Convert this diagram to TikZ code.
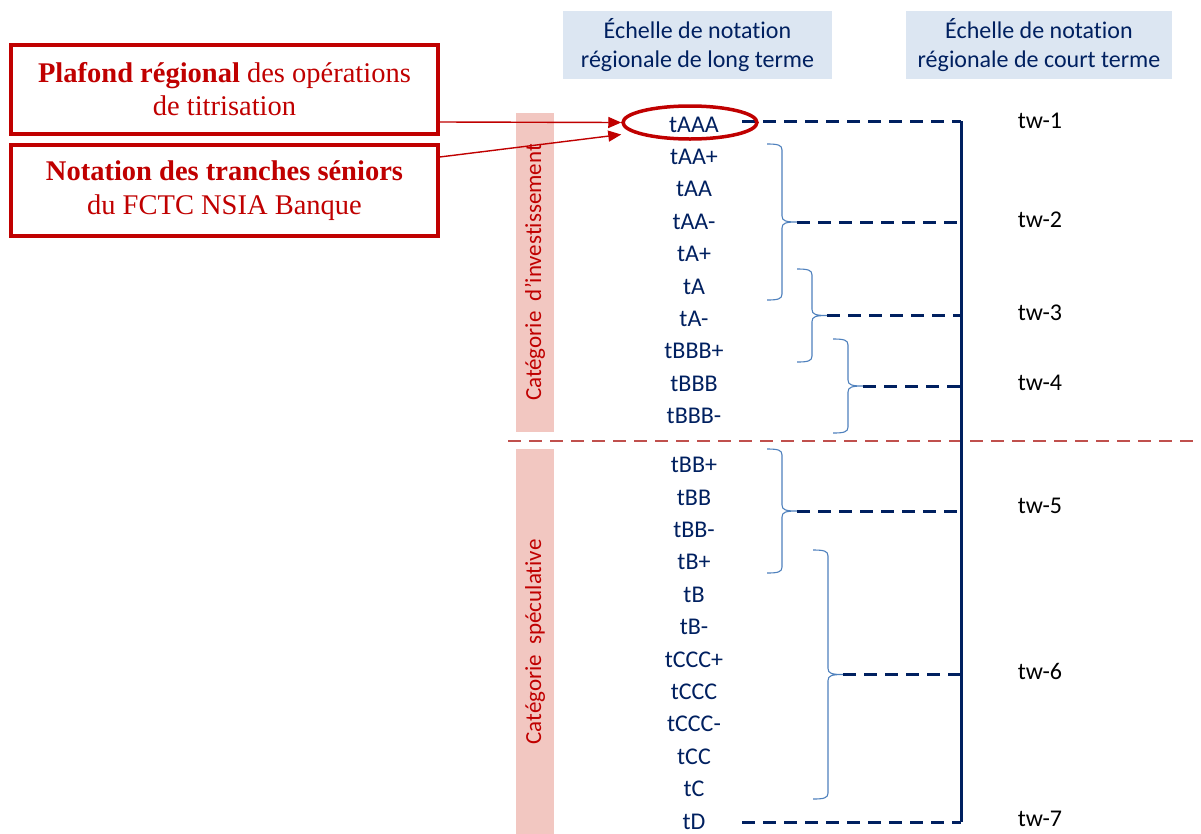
\documentclass[tikz,border=0pt]{standalone}
\usepackage{fontspec}
\setmainfont{Liberation Serif}
\newfontfamily\calibri[Ligatures=NoCommon]{Carlito}
\usetikzlibrary{arrows.meta,shapes.geometric}

\definecolor{boxred}{HTML}{C00000}
\definecolor{navy}{HTML}{002060}
\definecolor{headblue}{HTML}{DCE6F2}
\definecolor{barpink}{HTML}{F2C7C1}
\definecolor{braceblue}{HTML}{4F81BD}
\definecolor{splitred}{HTML}{C0504D}

\tikzset{
  callout/.style={draw=boxred, line width=3.5pt, text=boxred, align=center,
    minimum width=427pt, font=\fontsize{28.5}{33}\selectfont},
  header/.style={fill=headblue, text=navy, align=center, minimum height=68pt,
    font=\calibri\fontsize{24}{29}\selectfont},
  grade/.style={text=navy, minimum width=96pt, inner sep=0pt,
    font=\calibri\fontsize{24}{29}\selectfont},
  short/.style={text=black, font=\calibri\fontsize{24}{29}\selectfont},
  band/.style={fill=barpink, text=boxred, rotate=90, minimum height=38pt,
    inner sep=0pt, font=\calibri\fontsize{23}{28}\selectfont},
  ringed/.style={ellipse, draw=boxred, line width=3.5pt, minimum width=134pt,
    minimum height=33pt},
  pointer/.style={draw=boxred, line width=1.4pt, -{Triangle[length=13pt,width=11pt]}},
  link/.style={draw=navy, line width=3pt, dash pattern=on 13pt off 8pt},
  spine/.style={draw=navy, line width=3pt},
  split/.style={draw=splitred, line width=2.5pt, dash pattern=on 13pt off 8pt},
  bracket/.style={draw=braceblue, line width=1.1pt}
}

% right curly brace: x of the ends, top, bottom, name of its point
\newcommand\gradebrace[4]{%
  \draw[bracket] (#1,#2) .. controls ({#1+11},#2) and ({#1+15},{#2+1}) .. ({#1+15},{#2+6})
    -- ({#1+15},{(#2+#3)/2-6}) .. controls ({#1+15},{(#2+#3)/2-1}) and ({#1+19},{(#2+#3)/2}) .. ({#1+30},{(#2+#3)/2})
    coordinate (#4)
    .. controls ({#1+19},{(#2+#3)/2}) and ({#1+15},{(#2+#3)/2+1}) .. ({#1+15},{(#2+#3)/2+6})
    -- ({#1+15},{#3-6}) .. controls ({#1+15},{#3-1}) and ({#1+11},#3) .. (#1,#3);}

\begin{document}
\begin{tikzpicture}[x=1pt,y=-1pt]
\fill[white] (0,0) rectangle (1201,833);
\useasboundingbox (0,0) rectangle (1201,833);

% categories
\node[band, minimum width=319pt] (invest) at (535,272.5) {Catégorie\ \ d’investissement};
\node[band, minimum width=386pt] (specul) at (535,642) {Catégorie\ \ spéculative};
\draw[split] (508,441) -- (1201,441);

% headers
\node[header, minimum width=269pt] (longterm) at (697.5,45) {Échelle de notation\\régionale de long terme};
\node[header, minimum width=266pt] (shortterm) at (1039,45) {Échelle de notation\\régionale de court terme};

% long term grades
\foreach \g [count=\i from 0] in {tAAA,tAA+,tAA,tAA-,tA+,tA,tA-,tBBB+,tBBB,tBBB-}
  \node[grade] (r\i) at (694,{124.5+32.4*\i}) {\g};
\foreach \g [count=\i from 10] in {tBB+,tBB,tBB-,tB+,tB,tB-,tCCC+,tCCC,tCCC-,tCC,tC,tD}
  \node[grade] (r\i) at (694,{465+32.4*(\i-10)}) {\g};

% short term grades
\node[short] (tw1) at (1040,121) {tw-1};
\node[short] (tw2) at (1040,219.5) {tw-2};
\node[short] (tw3) at (1040,312.5) {tw-3};
\node[short] (tw4) at (1040,382.5) {tw-4};
\node[short] (tw5) at (1040,505.5) {tw-5};
\node[short] (tw6) at (1040,671.5) {tw-6};
\node[short] (tw7) at (1040,819) {tw-7};

% braces
\gradebrace{767}{144}{300}{b2}
\gradebrace{797}{269}{362}{b3}
\gradebrace{833}{339}{433}{b4}
\gradebrace{767}{449}{573}{b5}
\gradebrace{813}{550}{799}{b6}

% scale line
\coordinate (spinetop) at (961,121);
\coordinate (spinebot) at (961,822);
\draw[spine] (spinetop) -- (spinebot);
\draw[link] (r0.east |- spinetop) -- (spinetop);
\foreach \b in {b2,b3,b4,b5,b6}
  \draw[link] (\b) -- (\b -| spinetop);
\draw[link] (r21.east |- spinebot) -- (spinebot);

% callouts
\node[ringed] (ring) at (690,122.5) {};
\node[callout, minimum height=89pt] (plafond) at (224.5,89.5)
  {\textbf{Plafond régional} des opérations\\de titrisation};
\node[callout, minimum height=91pt, font=\fontsize{28.5}{34}\selectfont] (seniors) at (224.5,190.5)
  {\textbf{Notation des tranches séniors}\\du FCTC NSIA Banque};
\draw[pointer] ([yshift=-32.5pt]plafond.east) -- (ring.west);
\draw[pointer] ([yshift=33.5pt]seniors.east) -- ([yshift=-12pt]ring.west);
\end{tikzpicture}
\end{document}
